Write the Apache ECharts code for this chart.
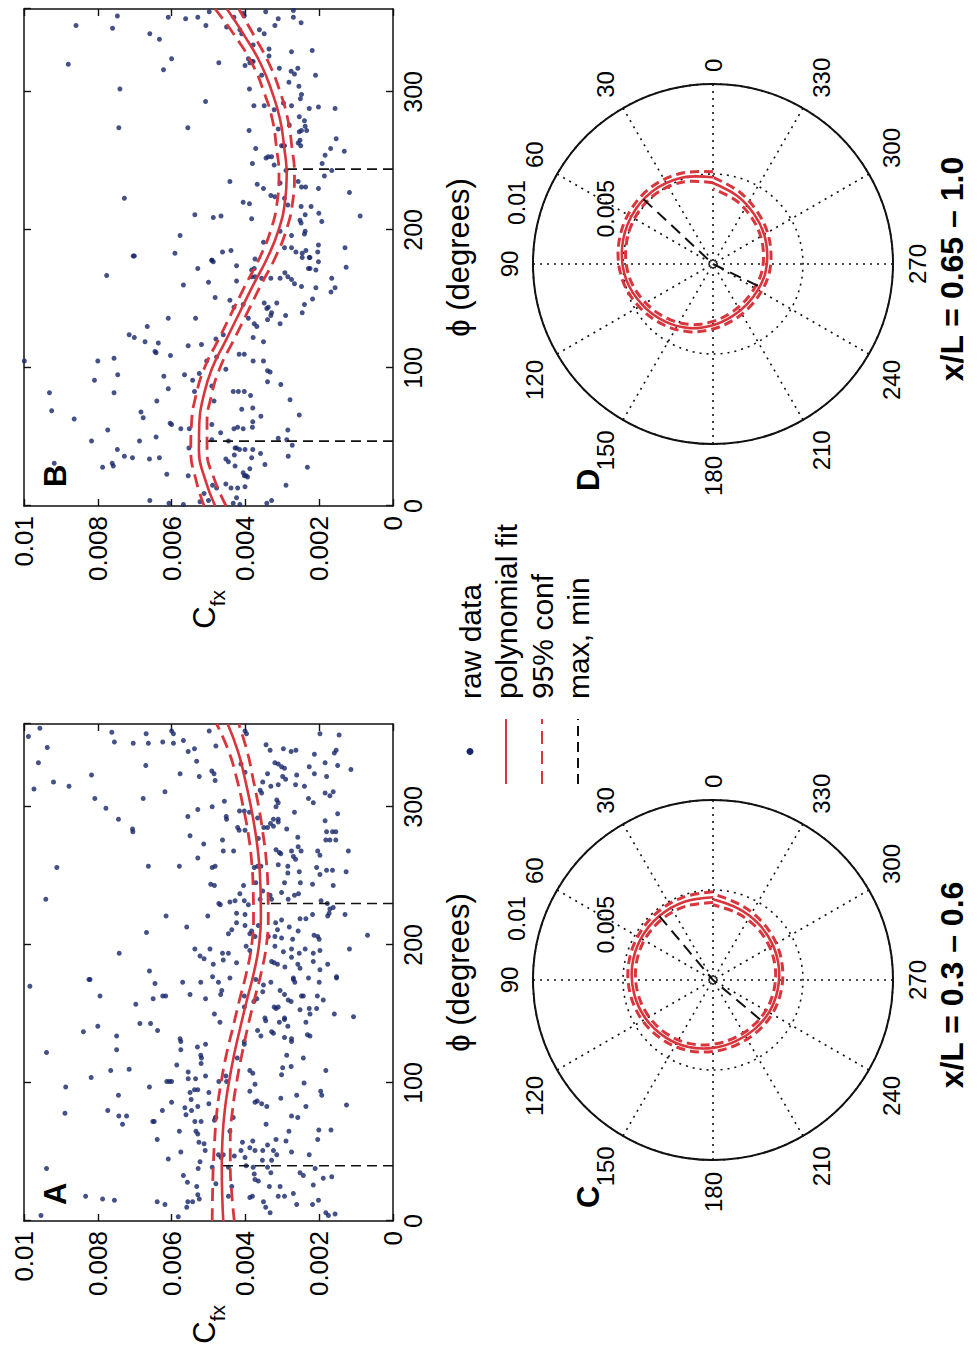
<!DOCTYPE html>
<html><head><meta charset="utf-8">
<script src="https://cdn.jsdelivr.net/npm/echarts/dist/echarts.min.js"></script>
<style>
html,body{margin:0;padding:0;background:#fff;overflow:hidden;width:977px;height:1353px;}
#chart{position:absolute;left:0;top:0;width:1353px;height:977px;transform-origin:0 0;transform:translateY(1353px) rotate(-90deg);background:#fff;}
</style></head><body><div id="chart"></div>
<script>
// ---------- DATA ----------
const phiTicks = [0, 100, 200, 300];
const cfxTicks = [0, 0.002, 0.004, 0.006, 0.008, 0.01];
const polarAngleTicks = [0, 30, 60, 90, 120, 150, 180, 210, 240, 270, 300, 330];
const ringTicks = [0.005, 0.01];
const panelLetters = ['A', 'B', 'C', 'D'];
const sectionLabels = ['x/L = 0.3 – 0.6', 'x/L = 0.65 – 1.0'];
const legendNames = ['raw data', 'polynomial fit', '95% conf', 'max, min'];

// angles at which the fitted curves are sampled (degrees)
const phiFit = [0, 20, 40, 60, 80, 100, 120, 140, 160, 180, 200, 220, 240, 260, 280, 300, 320, 340, 360];

// section x/L = 0.3-0.6 (panels A, C)
const fitA = [0.00460, 0.00463, 0.00464, 0.00462, 0.00456, 0.00445, 0.00431, 0.00414, 0.00396, 0.00377, 0.00363, 0.00358, 0.00359, 0.00363, 0.00372, 0.00385, 0.00401, 0.00420, 0.00448];
const upperA = [0.00490, 0.00489, 0.00487, 0.00483, 0.00477, 0.00466, 0.00452, 0.00434, 0.00416, 0.00397, 0.00383, 0.00378, 0.00379, 0.00383, 0.00392, 0.00406, 0.00423, 0.00445, 0.00478];
const lowerA = [0.00430, 0.00437, 0.00441, 0.00441, 0.00435, 0.00424, 0.00410, 0.00394, 0.00376, 0.00357, 0.00343, 0.00338, 0.00339, 0.00343, 0.00352, 0.00364, 0.00379, 0.00395, 0.00418];
const maxA = [40, 0.00464];
const minA = [230, 0.00358];

// section x/L = 0.65-1.0 (panels B, D)
const fitB = [0.00482, 0.00510, 0.00526, 0.00525, 0.00513, 0.00490, 0.00453, 0.00416, 0.00379, 0.00340, 0.00310, 0.00293, 0.00288, 0.00295, 0.00306, 0.00328, 0.00358, 0.00401, 0.00450];
const upperB = [0.00512, 0.00535, 0.00548, 0.00546, 0.00534, 0.00511, 0.00474, 0.00437, 0.00400, 0.00361, 0.00331, 0.00314, 0.00309, 0.00316, 0.00327, 0.00350, 0.00381, 0.00427, 0.00482];
const lowerB = [0.00452, 0.00485, 0.00504, 0.00504, 0.00492, 0.00469, 0.00432, 0.00395, 0.00358, 0.00319, 0.00289, 0.00272, 0.00267, 0.00274, 0.00285, 0.00306, 0.00335, 0.00375, 0.00418];
const maxB = [47, 0.00528];
const minB = [244, 0.00288];

// raw data [phi (deg), C_fx]
const rawA = [
[351,0.00988],[357,0.00957],[354,0.00762],[353,0.00669],[355,0.00600],[353,0.00595],[355,0.00498],[355,0.00401],[353,0.00397],[353,0.00198],[352,0.00146],
[347,0.00755],[346,0.00704],[346,0.00663],[347,0.00624],[346,0.00595],[348,0.00568],[344,0.00480],[345,0.00344],[343,0.00937],
[340,0.00555],[342,0.00538],[341,0.00333],[342,0.00297],[340,0.00276],[341,0.00263],[338,0.00213],[339,0.00159],[341,0.00154],
[332,0.00961],[330,0.00670],[333,0.00532],[331,0.00412],[332,0.00320],[331,0.00311],[329,0.00302],[328,0.00294],[329,0.00227],[332,0.00184],[330,0.00150],[327,0.00114],
[324,0.00577],[322,0.00525],[326,0.00491],[324,0.00485],[319,0.00482],[325,0.00401],[324,0.00340],[322,0.00299],[323,0.00261],[324,0.00213],[322,0.00180],
[318,0.00920],[315,0.00878],[323,0.00817],[318,0.00353],[315,0.00331],[316,0.00311],[320,0.00291],[316,0.00264],[315,0.00240],
[313,0.00973],[311,0.00618],[312,0.00360],[310,0.00356],[311,0.00162],[310,0.00184],[306,0.00229],[303,0.00216],
[306,0.00808],[306,0.00677],[304,0.00457],[305,0.00315],[303,0.00311],[308,0.00171],
[299,0.00778],[298,0.00529],[300,0.00490],[297,0.00416],[297,0.00403],[296,0.00389],[300,0.00317],[296,0.00267],[295,0.00150],
[291,0.00744],[293,0.00556],[293,0.00452],[291,0.00451],[292,0.00367],[291,0.00324],[288,0.00332],[291,0.00311],[289,0.00311],[290,0.00184],[286,0.00324],
[284,0.00706],[282,0.00705],[285,0.00421],[283,0.00417],[283,0.00401],[285,0.00350],[285,0.00340],[284,0.00288],[282,0.00180],[282,0.00164],[282,0.00155],
[279,0.00550],[276,0.00462],[277,0.00365],[278,0.00258],[276,0.00182],[276,0.00171],[276,0.00155],
[273,0.00513],[268,0.00460],[268,0.00432],[269,0.00317],[267,0.00308],[266,0.00304],[268,0.00275],[271,0.00257],[268,0.00249],[268,0.00204],[265,0.00198],[268,0.00121],
[263,0.00529],[264,0.00270],[262,0.00264],
[256,0.00911],[257,0.00663],[257,0.00579],[256,0.00490],[257,0.00482],[256,0.00376],[257,0.00367],[257,0.00358],[258,0.00311],[257,0.00285],[253,0.00254],[252,0.00285],[256,0.00207],[251,0.00198],[254,0.00180],[254,0.00164],[253,0.00127],
[244,0.00494],[243,0.00484],[243,0.00405],[245,0.00372],[245,0.00294],[245,0.00251],[244,0.00218],[243,0.00162],
[239,0.00353],[236,0.00333],[238,0.00302],[233,0.00284],[237,0.00256],[236,0.00267],[237,0.00415],
[233,0.00941],[230,0.00472],[229,0.00468],[231,0.00442],[232,0.00428],[232,0.00403],[229,0.00392],[233,0.00360],[233,0.00329],[232,0.00195],[230,0.00178],[226,0.00171],[227,0.00162],
[221,0.00615],[221,0.00502],[223,0.00424],[222,0.00401],[218,0.00302],[219,0.00252],[219,0.00236],[222,0.00218],[221,0.00177],[222,0.00130],[223,0.00173],
[213,0.00559],[216,0.00424],[214,0.00401],[214,0.00365],[216,0.00318],[211,0.00313],[213,0.00281],[210,0.00257],[206,0.00204],[204,0.00200],[208,0.00446],[211,0.00437],[208,0.00388],[210,0.00383],
[209,0.00668],[206,0.00374],[206,0.00338],[206,0.00320],[205,0.00302],[204,0.00272],[207,0.00214],[207,0.00069],
[194,0.00742],[197,0.00537],[192,0.00523],[190,0.00512],[197,0.00496],[194,0.00462],[194,0.00446],[199,0.00398],[196,0.00388],[199,0.00320],[195,0.00297],[197,0.00275],[194,0.00254],[197,0.00238],[194,0.00216],[196,0.00198],[197,0.00118],
[186,0.00487],[189,0.00460],[187,0.00424],[188,0.00329],[187,0.00322],[186,0.00313],[184,0.00293],[191,0.00275],[186,0.00258],[183,0.00252],[188,0.00216],[182,0.00198],[186,0.00177],[181,0.00660],
[175,0.00821],[177,0.00489],[176,0.00442],[176,0.00270],[176,0.00229],[177,0.00153],
[170,0.00984],[175,0.00824],[172,0.00645],[173,0.00570],[173,0.00521],[173,0.00473],[175,0.00372],[171,0.00351],[173,0.00331],[175,0.00270],[173,0.00266],[173,0.00200],[176,0.00153],
[163,0.00794],[161,0.00650],[163,0.00624],[163,0.00616],[164,0.00550],[161,0.00508],[164,0.00467],[167,0.00464],[163,0.00403],[159,0.00377],[161,0.00369],[166,0.00353],[154,0.00317],[167,0.00306],[164,0.00294],[160,0.00284],[159,0.00276],[163,0.00248],[163,0.00243],[163,0.00205],[160,0.00189],
[157,0.00697],[150,0.00484],[155,0.00403],[147,0.00347],[155,0.00322],[155,0.00311],[146,0.00294],[153,0.00252],[154,0.00227],[150,0.00225],[154,0.00207],[150,0.00159],[148,0.00107],[145,0.00345],
[137,0.00839],[141,0.00800],[134,0.00749],[143,0.00686],[143,0.00657],[138,0.00638],[144,0.00469],[138,0.00367],[134,0.00358],[137,0.00329],[136,0.00324],[144,0.00308],[147,0.00294],[141,0.00285],[133,0.00294],[132,0.00275],[130,0.00275],[144,0.00236],[135,0.00232],[134,0.00225],
[122,0.00939],[124,0.00749],[132,0.00577],[130,0.00575],[124,0.00575],[126,0.00530],[120,0.00521],[118,0.00519],[128,0.00508],[118,0.00422],[130,0.00403],[128,0.00403],[109,0.00388],[120,0.00288],[118,0.00243],
[109,0.00765],[110,0.00715],[113,0.00586],[108,0.00555],[114,0.00520],[112,0.00276],[106,0.00302],[111,0.00299],[109,0.00182],
[97,0.00887],[104,0.00818],[97,0.00660],[101,0.00613],[101,0.00606],[101,0.00600],[103,0.00555],[103,0.00535],[105,0.00508],[101,0.00472],[105,0.00453],[101,0.00451],[99,0.00374],[100,0.00241],[107,0.00380],
[91,0.00744],[86,0.00600],[93,0.00550],[95,0.00538],[95,0.00529],[88,0.00547],[93,0.00499],[94,0.00388],[87,0.00368],[85,0.00356],[89,0.00304],[91,0.00261],[94,0.00196],[91,0.00193],
[78,0.00889],[80,0.00773],[76,0.00743],[76,0.00722],[80,0.00625],[72,0.00647],[82,0.00564],[77,0.00561],[80,0.00546],[83,0.00529],[85,0.00499],[75,0.00480],[75,0.00433],[83,0.00342],[76,0.00275],[75,0.00258],[83,0.00236],[84,0.00126],[86,0.00374],
[70,0.00733],[72,0.00651],[65,0.00579],[72,0.00537],[65,0.00534],[63,0.00529],[72,0.00520],[73,0.00484],[75,0.00481],[65,0.00442],[57,0.00408],[58,0.00380],[70,0.00344],[59,0.00317],[58,0.00290],[65,0.00282],[66,0.00201],[66,0.00168],[59,0.00204],
[59,0.00639],[45,0.00609],[50,0.00575],[57,0.00526],[56,0.00512],[51,0.00509],[48,0.00473],[48,0.00460],[47,0.00430],[51,0.00412],[53,0.00388],[51,0.00374],[51,0.00353],[51,0.00324],[48,0.00315],[55,0.00340],[50,0.00275],[48,0.00227],
[38,0.00939],[38,0.00528],[43,0.00523],[39,0.00490],[46,0.00466],[39,0.00446],[46,0.00401],[40,0.00398],[39,0.00379],[44,0.00354],[39,0.00340],[44,0.00329],[35,0.00331],[35,0.00252],[33,0.00243],[31,0.00189],[32,0.00166],[34,0.00376],
[33,0.00568],[28,0.00557],[25,0.00532],[27,0.00480],[25,0.00437],[30,0.00374],[29,0.00365],[25,0.00335],[25,0.00306],[26,0.00216],[38,0.00211],
[18,0.00833],[16,0.00787],[15,0.00755],[14,0.00639],[12,0.00618],[14,0.00556],[10,0.00559],[14,0.00543],[19,0.00529],[16,0.00525],[18,0.00446],[17,0.00388],[18,0.00381],[14,0.00351],[10,0.00345],[6,0.00333],[18,0.00311],[18,0.00294],[20,0.00270],[12,0.00261],[12,0.00218],[15,0.00202],[6,0.00182],[5,0.00157],
[4,0.00954],[3,0.00582],[4,0.00175]
];

const rawB = [
[348,0.00859],[346,0.00760],[355,0.00747],[354,0.00609],[353,0.00562],[354,0.00529],[348,0.00507],[358,0.00498],[347,0.00451],[354,0.00431],[357,0.00406],[355,0.00403],[358,0.00345],[348,0.00320],[353,0.00311],[359,0.00270],[354,0.00270],[350,0.00249],[345,0.00415],[342,0.00410],
[342,0.00659],[338,0.00633],[334,0.00379],[345,0.00362],[342,0.00349],[331,0.00336],[329,0.00275],[330,0.00219],[322,0.00383],
[320,0.00880],[316,0.00622],[324,0.00600],[321,0.00472],[319,0.00401],[324,0.00392],[321,0.00388],[322,0.00379],[312,0.00356],[326,0.00336],[317,0.00308],[315,0.00276],[313,0.00267],[317,0.00258],[312,0.00210],[304,0.00255],
[302,0.00740],[293,0.00508],[302,0.00389],[307,0.00282],[295,0.00251],[298,0.00248],
[290,0.00377],[290,0.00349],[287,0.00322],[292,0.00297],[290,0.00275],[288,0.00227],[289,0.00202],[288,0.00157],[282,0.00254],[279,0.00240],
[274,0.00743],[274,0.00556],[272,0.00390],[273,0.00311],[261,0.00302],[261,0.00297],[276,0.00281],[271,0.00254],[272,0.00248],[275,0.00238],[272,0.00234],[266,0.00154],[259,0.00169],[257,0.00132],
[259,0.00372],[252,0.00344],[253,0.00338],[253,0.00329],[247,0.00322],[248,0.00381],[261,0.00294],[243,0.00290],[263,0.00257],[265,0.00252],[261,0.00250],[254,0.00184],[248,0.00192],
[235,0.00442],[233,0.00368],[230,0.00351],[234,0.00306],[235,0.00257],[231,0.00248],[231,0.00237],[230,0.00202],[239,0.00186],[243,0.00166],[227,0.00118],
[223,0.00728],[220,0.00406],[219,0.00389],[208,0.00383],[225,0.00331],[224,0.00320],[223,0.00294],[218,0.00285],[217,0.00249],[217,0.00222],[212,0.00201],[211,0.00238],[211,0.00537],[209,0.00487],[210,0.00466],[210,0.00089],
[199,0.00306],[196,0.00275],[207,0.00252],[205,0.00249],[199,0.00238],[197,0.00240],[206,0.00193],[196,0.00577],
[181,0.00701],[183,0.00591],[178,0.00491],[184,0.00462],[185,0.00439],[179,0.00374],[191,0.00351],[187,0.00294],[187,0.00275],[184,0.00263],[183,0.00246],[185,0.00236],[180,0.00227],[189,0.00202],[184,0.00204],[187,0.00130],
[181,0.00704],[178,0.00491],[177,0.00487],[174,0.00424],[172,0.00376],[166,0.00383],[166,0.00374],[165,0.00356],[165,0.00331],[165,0.00306],[169,0.00293],[166,0.00285],[164,0.00275],[161,0.00267],[159,0.00248],[180,0.00246],[180,0.00225],[172,0.00229],[172,0.00225],[171,0.00209],[177,0.00202],[155,0.00168],[158,0.00157],[173,0.00127],[165,0.00166],[158,0.00209],
[167,0.00776],[160,0.00568],[162,0.00500],[151,0.00482],[163,0.00424],[172,0.00529],[171,0.00383],
[149,0.00442],[144,0.00431],[146,0.00406],[136,0.00392],[132,0.00376],[130,0.00369],[147,0.00349],[143,0.00342],[144,0.00338],[140,0.00329],[135,0.00340],[138,0.00331],[147,0.00315],[132,0.00306],[138,0.00291],[140,0.00246],[146,0.00240],[150,0.00218],[136,0.00609],[136,0.00535],[130,0.00666],
[124,0.00715],[122,0.00701],[119,0.00672],[118,0.00636],[112,0.00645],[111,0.00642],[109,0.00603],[116,0.00555],[117,0.00519],[105,0.00505],[121,0.00480],[124,0.00460],[108,0.00478],[110,0.00417],[110,0.00403],[122,0.00379],[105,0.00379],[119,0.00351],[105,0.00351],
[105,0.00999],[105,0.00800],[107,0.00756],[95,0.00746],[91,0.00809],[82,0.00756],[94,0.00621],[85,0.00609],[95,0.00565],[91,0.00543],[83,0.00538],[96,0.00525],[87,0.00491],[76,0.00485],[83,0.00433],[83,0.00419],[83,0.00403],[80,0.00386],[98,0.00340],[97,0.00333],[90,0.00340],[88,0.00304],[99,0.00453],
[82,0.00931],[69,0.00925],[63,0.00864],[68,0.00683],[64,0.00677],[76,0.00640],[60,0.00604],[59,0.00600],[56,0.00575],[56,0.00552],[59,0.00491],[53,0.00467],[56,0.00431],[57,0.00421],[56,0.00406],[57,0.00381],[61,0.00380],[70,0.00410],[71,0.00380],[65,0.00358],[77,0.00279],[66,0.00254],
[55,0.00773],[47,0.00817],[47,0.00687],[50,0.00642],[41,0.00747],[36,0.00728],[35,0.00706],[34,0.00660],[35,0.00633],[42,0.00553],[48,0.00491],[47,0.00446],[42,0.00428],[42,0.00424],[41,0.00416],[37,0.00430],[41,0.00401],[41,0.00380],[38,0.00359],[49,0.00311],[48,0.00288],[55,0.00285],[44,0.00273],[36,0.00284],
[31,0.00918],[28,0.00787],[31,0.00761],[29,0.00758],[23,0.00613],[22,0.00555],[9,0.00512],[15,0.00489],[13,0.00478],[34,0.00453],[32,0.00446],[29,0.00428],[24,0.00406],[22,0.00403],[22,0.00398],[21,0.00394],[27,0.00388],[35,0.00383],[30,0.00347],[16,0.00453],[13,0.00439],[13,0.00421],[14,0.00401],[15,0.00290],[28,0.00232],
[4,0.00659],[2,0.00607],[1,0.00568],[3,0.00523],[4,0.00500],[2,0.00433],[6,0.00424],[1,0.00415],[2,0.00342],[4,0.00329]
];

// ---------- STYLE ----------
const FONT = "'Liberation Sans', Arial, Helvetica, sans-serif";
const RED = '#d8353d';
const BLUE = '#17276a';
const BLACK = '#111';

const sections = [
  {raw: rawA, fit: fitA, up: upperA, lo: lowerA, mx: maxA, mn: minA},
  {raw: rawB, fit: fitB, up: upperB, lo: lowerB, mx: maxB, mn: minB}
];
const gridBoxes = [{left: 132, top: 24, width: 497, height: 369}, {left: 847, top: 24, width: 497, height: 369}];
const polarCenters = [[373, 713], [1089, 713]];

const grid = gridBoxes.map(g => Object.assign({outerBoundsMode: 'none', containLabel: false}, g));
const xAxis = [], yAxis = [], angleAxis = [], radiusAxis = [], series = [];
const tickStyle = {lineStyle: {color: BLACK, width: 1.4}};
const lineStyleAx = {show: true, onZero: false, lineStyle: {color: BLACK, width: 1.5}};

// smooth polar curve drawn through the polar coordinate system of the chart
function polarCurve(name, polarIndex, values, color, width, dash) {
  return {
    name, type: 'custom', coordinateSystem: 'polar', polarIndex, silent: true, animation: false, z: 4,
    data: phiFit.map((p, k) => [values[k], p]),
    itemStyle: {color},
    renderItem: (params, api) => {
      if (params.dataIndex !== 0) return null;
      const pts = phiFit.map((p, k) => api.coord([values[k], p]));
      return {
        type: 'polyline',
        shape: {points: pts, smooth: 0.35},
        style: {stroke: color, lineWidth: width, fill: null, lineDash: dash || null}
      };
    }
  };
}

sections.forEach((s, i) => {
  ['bottom', 'top'].forEach((pos, k) => {
    xAxis.push({
      gridIndex: i, type: 'value', position: pos, min: phiTicks[0], max: 360, interval: phiTicks[1] - phiTicks[0],
      axisLine: lineStyleAx, axisTick: Object.assign({show: true, inside: true, length: 7}, tickStyle),
      splitLine: {show: false},
      axisLabel: {show: k === 0, showMaxLabel: false, fontSize: 25, color: '#000', fontFamily: FONT, margin: 7},
      name: k === 0 ? 'ϕ (degrees)' : '', nameLocation: 'middle', nameGap: 50,
      nameTextStyle: {fontSize: 31, color: '#000', fontFamily: FONT}
    });
  });
  ['left', 'right'].forEach((pos, k) => {
    yAxis.push({
      gridIndex: i, type: 'value', position: pos, min: cfxTicks[0], max: cfxTicks[cfxTicks.length - 1], interval: cfxTicks[1] - cfxTicks[0],
      axisLine: lineStyleAx, axisTick: Object.assign({show: true, inside: true, length: 7}, tickStyle),
      splitLine: {show: false},
      axisLabel: {show: k === 0, fontSize: 26, color: '#000', fontFamily: FONT, margin: 10},
      name: k === 0 ? '{c|C}{s|fx}' : '', nameLocation: 'middle', nameRotate: 0, nameGap: 84,
      nameTextStyle: {color: '#000', fontFamily: FONT, rich: {
        c: {fontSize: 31, fontFamily: FONT, color: '#000', verticalAlign: 'top'},
        s: {fontSize: 21, fontFamily: FONT, color: '#000', padding: [18, 0, 0, 0]}
      }}
    });
  });
  angleAxis.push({
    polarIndex: i, type: 'value', min: 0, max: 360, interval: polarAngleTicks[1] - polarAngleTicks[0],
    startAngle: 0, clockwise: false,
    axisLine: {show: true, lineStyle: {color: BLACK, width: 2}},
    axisTick: {show: false},
    axisLabel: {fontSize: 24, color: '#000', fontFamily: FONT, margin: 12, formatter: v => (v === 360 ? '' : String(v))},
    splitLine: {show: true, lineStyle: {color: BLACK, width: 1.6, type: [2, 5]}}
  });
  radiusAxis.push({
    polarIndex: i, type: 'value', min: 0, max: ringTicks[ringTicks.length - 1], interval: ringTicks[0],
    axisLine: {show: false}, axisTick: {show: false}, axisLabel: {show: false},
    splitLine: {show: true, lineStyle: {color: BLACK, width: 1.6, type: [2, 5]}}
  });

  const xi = i * 2, yi = i * 2;
  const fitPts = phiFit.map((p, k) => [p, s.fit[k]]);
  const upPts = phiFit.map((p, k) => [p, s.up[k]]);
  const loPts = phiFit.map((p, k) => [p, s.lo[k]]);
  const lineBase = {type: 'line', smooth: true, symbol: 'none', showSymbol: false, silent: true, animation: false};

  series.push({name: 'raw data', type: 'scatter', xAxisIndex: xi, yAxisIndex: yi, data: s.raw,
    symbol: 'circle', symbolSize: 5, itemStyle: {color: BLUE}, silent: true, animation: false, z: 2});
  series.push(Object.assign({name: 'polynomial fit', xAxisIndex: xi, yAxisIndex: yi, data: fitPts, z: 4,
    lineStyle: {color: RED, width: 2.6}, itemStyle: {color: RED}}, lineBase));
  [upPts, loPts].forEach(d => series.push(Object.assign({name: '95% conf', xAxisIndex: xi, yAxisIndex: yi, data: d, z: 4,
    lineStyle: {color: RED, width: 2.8, type: [13, 7]}, itemStyle: {color: RED}}, lineBase)));
  [s.mx, s.mn].forEach(e => series.push({name: 'max, min', type: 'line', xAxisIndex: xi, yAxisIndex: yi,
    data: [[e[0], 0], [e[0], e[1]]], symbol: 'none', silent: true, animation: false, z: 3,
    lineStyle: {color: BLACK, width: 1.6, type: [10, 6]}, itemStyle: {color: BLACK}}));

  // polar panels
  series.push(polarCurve('polynomial fit', i, s.fit, RED, 2.6));
  series.push(polarCurve('95% conf', i, s.up, RED, 3, [9, 5]));
  series.push(polarCurve('95% conf', i, s.lo, RED, 3, [9, 5]));
  series.push({name: 'max, min', type: 'line', coordinateSystem: 'polar', polarIndex: i, symbol: 'none',
    data: [[s.mx[1], s.mx[0]], [0, 0], [s.mn[1], s.mn[0]]], silent: true, animation: false, z: 5,
    lineStyle: {color: BLACK, width: 2, type: [12, 7]}, itemStyle: {color: BLACK}});
  series.push({name: 'ring labels', type: 'scatter', coordinateSystem: 'polar', polarIndex: i,
    data: ringTicks.map(r => [r, 82]), symbolSize: 0.01, itemStyle: {color: '#000', opacity: 1}, silent: true, animation: false, z: 6,
    label: {show: true, position: 'top', align: 'left', distance: 6, offset: [14, 0], fontSize: 23, color: '#000', opacity: 1, fontFamily: FONT,
      formatter: p => String(p.value[0])}});
});

const bold = () => ({fontSize: 31, fontWeight: 'bold', fill: '#000', fontFamily: FONT});
const graphic = [
  {type: 'text', left: 148, top: 40, style: Object.assign({text: panelLetters[0]}, bold())},
  {type: 'text', left: 866, top: 40, style: Object.assign({text: panelLetters[1]}, bold())},
  {type: 'text', left: 145, top: 573, style: Object.assign({text: panelLetters[2]}, bold())},
  {type: 'text', left: 862, top: 573, style: Object.assign({text: panelLetters[3]}, bold())},
  {type: 'text', x: polarCenters[0][0] - 5, y: 952, style: Object.assign({text: sectionLabels[0], align: 'center', verticalAlign: 'middle'}, bold(), {fontSize: 32})},
  {type: 'text', x: polarCenters[1][0] - 5, y: 952, style: Object.assign({text: sectionLabels[1], align: 'center', verticalAlign: 'middle'}, bold(), {fontSize: 32})}
];

const option = {
  animation: false,
  backgroundColor: '#fff',
  grid, xAxis, yAxis,
  polar: polarCenters.map(c => ({center: c, radius: 180})),
  angleAxis, radiusAxis,
  legend: {
    data: legendNames.map((n, k) => ({name: n, itemStyle: {opacity: k === 0 ? 1 : 0}})),
    orient: 'vertical', left: 563, top: 450, itemWidth: 65, itemHeight: 7, itemGap: 6,
    selectedMode: false, textStyle: {fontSize: 30, color: '#000', fontFamily: FONT, padding: [0, 0, 0, 15]}
  },
  graphic,
  series
};

const chart = echarts.init(document.getElementById('chart'), null, {renderer: 'svg', width: 1353, height: 977});
chart.setOption(option);
</script>
</body></html>
